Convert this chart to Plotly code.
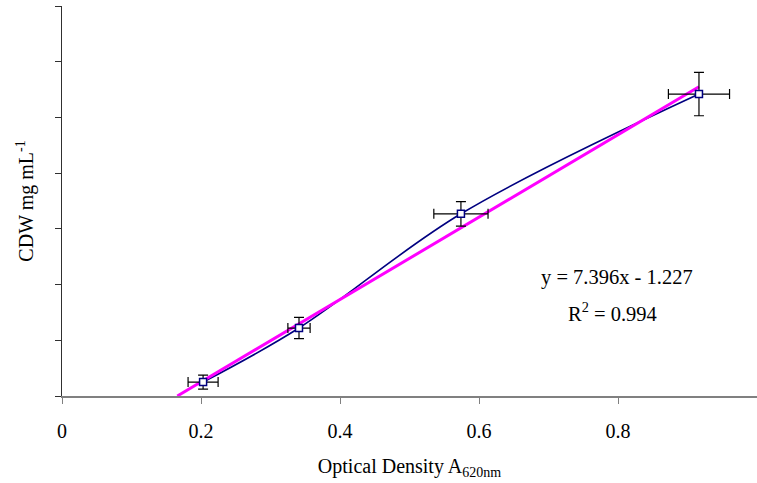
import plotly.graph_objects as go

# Data
od = [0.203, 0.341, 0.574, 0.9165]
cdw = [0.25, 1.22, 3.27, 5.42]
od_err = [0.0216, 0.016, 0.039, 0.044]
cdw_err = [0.125, 0.19, 0.22, 0.39]

slope = 7.396
intercept = -1.227
trend_x = [-intercept / slope, max(od)]
trend_y = [slope * x + intercept for x in trend_x]

x_ticks = [0, 0.2, 0.4, 0.6, 0.8]
x_ticklabels = ["0", "0.2", "0.4", "0.6", "0.8"]

FONT = "Liberation Serif, Times New Roman, serif"

fig = go.Figure()
fig.add_trace(go.Scatter(
    x=od, y=cdw, mode="lines",
    line=dict(color="#000080", width=1.6, shape="spline", smoothing=1.0),
    hoverinfo="skip", showlegend=False))
fig.add_trace(go.Scatter(
    x=trend_x, y=trend_y, mode="lines",
    line=dict(color="#FF00FF", width=3),
    showlegend=False))
fig.add_trace(go.Scatter(
    x=od, y=cdw, mode="markers",
    marker=dict(symbol="square", size=7, color="white",
                line=dict(color="#000080", width=1.5)),
    error_x=dict(type="data", array=od_err, color="black", thickness=1.2, width=5),
    error_y=dict(type="data", array=cdw_err, color="black", thickness=1.2, width=5),
    showlegend=False))

fig.add_annotation(x=0.798, y=2.12, xref="x", yref="y",
                   text="y = 7.396x - 1.227", showarrow=False,
                   font=dict(family=FONT, size=20.5, color="black"))
fig.add_annotation(x=0.792, y=1.5, xref="x", yref="y",
                   text="R<sup>2</sup> = 0.994", showarrow=False,
                   font=dict(family=FONT, size=20.5, color="black"))

fig.update_layout(
    width=757, height=483,
    margin=dict(l=62, r=0, t=6, b=87, autoexpand=False),
    paper_bgcolor="white", plot_bgcolor="white",
    font=dict(family=FONT, size=20, color="black"),
)
fig.update_xaxes(
    range=[0, 1.0], tickvals=x_ticks, ticktext=x_ticklabels,
    showgrid=False, zeroline=False,
    showline=True, linecolor="#808080", linewidth=2,
    ticks="outside", ticklen=6, tickcolor="#808080", tickwidth=1,
    ticklabelstandoff=10,
    title=dict(text="Optical Density A<sub>620nm</sub>", standoff=18,
               font=dict(family=FONT, size=20)),
)
fig.update_yaxes(
    range=[0, 7], dtick=1, showticklabels=False,
    showgrid=False, zeroline=False,
    showline=True, linecolor="#303030", linewidth=1.2,
    ticks="outside", ticklen=6, tickcolor="#303030",
    title=dict(text="CDW mg mL<sup>-1</sup>", standoff=15,
               font=dict(family=FONT, size=20)),
)

fig.write_html("out.html", config={"displayModeBar": False},
               post_script="document.body.style.margin='0';")
